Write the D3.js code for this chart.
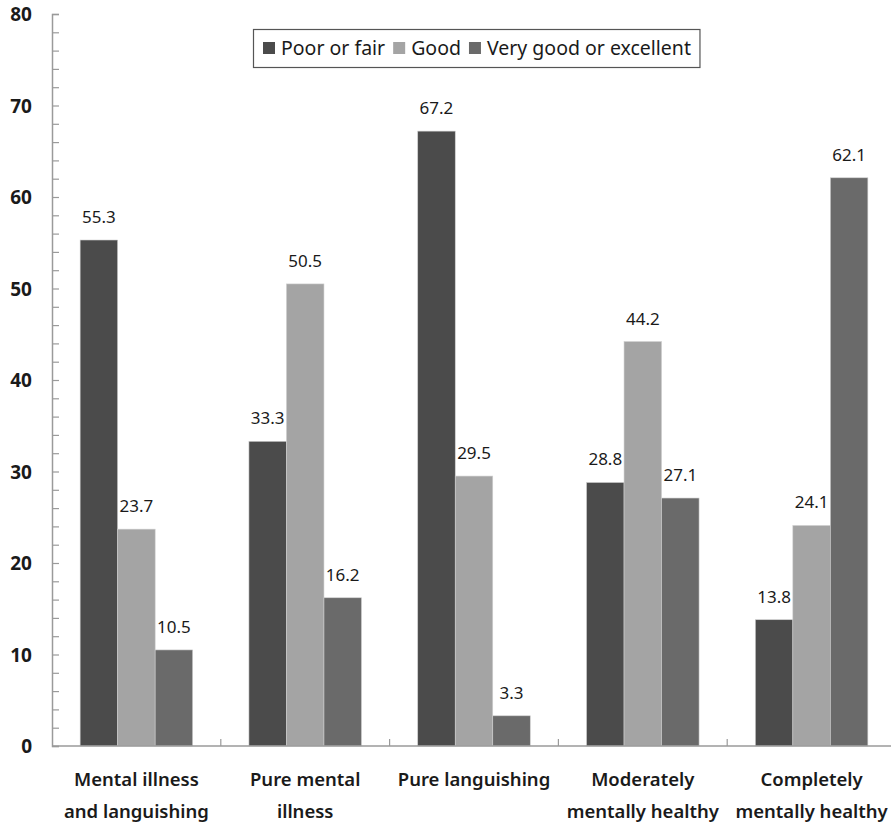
<!DOCTYPE html>
<html>
<head>
<meta charset="utf-8">
<script src="https://cdn.jsdelivr.net/npm/d3@7"></script>
<style>
  html, body { margin: 0; padding: 0; background: #fff; }
  svg { display: block; font-family: "Noto Sans", "Open Sans", sans-serif; }
</style>
</head>
<body>
<svg id="chart" width="891" height="829"></svg>
<script>
// Self-rated health by mental health category (%)
const categories = [
  ["Mental illness", "and languishing"],
  ["Pure mental", "illness"],
  ["Pure languishing"],
  ["Moderately", "mentally healthy"],
  ["Completely", "mentally healthy"]
];
const seriesNames = ["Poor or fair", "Good", "Very good or excellent"];
const poorOrFair = [55.3, 33.3, 67.2, 28.8, 13.8];
const good = [23.7, 50.5, 29.5, 44.2, 24.1];
const veryGoodOrExcellent = [10.5, 16.2, 3.3, 27.1, 62.1];
const yTicks = [0, 10, 20, 30, 40, 50, 60, 70, 80];
const seriesColors = ["#4b4b4b", "#a4a4a4", "#6a6a6a"];

const seriesValues = [poorOrFair, good, veryGoodOrExcellent];

const svg = d3.select("#chart");
const plotLeft = 52, plotRight = 896, plotTop = 14, plotBottom = 746;

const x0 = d3.scaleBand().domain(d3.range(categories.length)).range([plotLeft, plotRight]).paddingInner(0).paddingOuter(0);
const x1 = d3.scaleBand().domain(d3.range(seriesNames.length)).range([0, x0.bandwidth()]).paddingInner(0).paddingOuter(0.75);
const y = d3.scaleLinear().domain([0, 80]).range([plotBottom, plotTop]);

// Bars
const groups = svg.append("g").selectAll("g")
  .data(categories.map((c, i) => i))
  .join("g")
  .attr("transform", i => `translate(${x0(i)},0)`);

groups.selectAll("rect")
  .data(i => seriesValues.map((s, k) => ({ k, v: s[i] })))
  .join("rect")
  .attr("x", d => x1(d.k))
  .attr("y", d => y(d.v))
  .attr("width", x1.bandwidth())
  .attr("height", d => y(0) - y(d.v))
  .attr("fill", d => seriesColors[d.k])
  .attr("stroke", "#cfcfcf")
  .attr("stroke-width", 0.6);

// Value labels
groups.selectAll("text.val")
  .data(i => seriesValues.map((s, k) => ({ k, v: s[i] })))
  .join("text")
  .attr("class", "val")
  .attr("x", d => x1(d.k) + x1.bandwidth() / 2)
  .attr("y", d => y(d.v) - 17)
  .attr("text-anchor", "middle")
  .attr("font-size", 17)
  .attr("fill", "#1a1a1a")
  .text(d => d.v.toFixed(1));

// Y axis with minor ticks pointing inward
const yAxis = d3.axisRight(y)
  .tickValues(d3.range(0, 81, 2))
  .tickSize(7)
  .tickFormat("");
const gy = svg.append("g").attr("transform", `translate(${plotLeft},0)`).call(yAxis);
gy.select(".domain").attr("stroke", "#9a9a9a").attr("stroke-width", 1.5);
gy.selectAll(".tick line").attr("stroke", "#9a9a9a").attr("stroke-width", 1.2);

svg.append("g").selectAll("text")
  .data(yTicks)
  .join("text")
  .attr("x", 32)
  .attr("y", d => y(d) + 7)
  .attr("text-anchor", "end")
  .attr("font-size", 19)
  .attr("font-weight", 700)
  .attr("fill", "#1a1a1a")
  .text(d => d);

// X axis with category separators
svg.append("line")
  .attr("x1", plotLeft).attr("x2", 891)
  .attr("y1", y(0)).attr("y2", y(0))
  .attr("stroke", "#9a9a9a").attr("stroke-width", 1.5);
svg.append("g").selectAll("line")
  .data(d3.range(1, categories.length + 1))
  .join("line")
  .attr("x1", i => x0(i - 1) + x0.bandwidth())
  .attr("x2", i => x0(i - 1) + x0.bandwidth())
  .attr("y1", y(0)).attr("y2", y(0) - 7)
  .attr("stroke", "#9a9a9a").attr("stroke-width", 1.2);

// Category labels
const cat = svg.append("g").selectAll("text")
  .data(categories)
  .join("text")
  .attr("text-anchor", "middle")
  .attr("font-size", 18.5)
  .attr("font-weight", 600)
  .attr("fill", "#1a1a1a");
cat.selectAll("tspan")
  .data((d, i) => d.map((line, j) => ({ line, j, i })))
  .join("tspan")
  .attr("x", d => x0(d.i) + x0.bandwidth() / 2)
  .attr("y", d => 786 + d.j * 32)
  .text(d => d.line);

// Legend: items laid out one after another from measured text widths
const legend = svg.append("g");
const box = legend.append("rect")
  .attr("fill", "#fff").attr("stroke", "#555").attr("stroke-width", 1.2);
let cursor = 263;
seriesNames.forEach((name, i) => {
  legend.append("rect")
    .attr("x", cursor).attr("y", 42).attr("width", 12).attr("height", 12)
    .attr("fill", seriesColors[i]);
  const t = legend.append("text")
    .attr("x", cursor + 18).attr("y", 55)
    .attr("font-size", 19.5)
    .attr("fill", "#1a1a1a")
    .text(name);
  cursor += 18 + t.node().getComputedTextLength() + 8;
});
box.attr("x", 253.5).attr("y", 29.5).attr("width", cursor - 253.5 + 1).attr("height", 38);
</script>
</body>
</html>
